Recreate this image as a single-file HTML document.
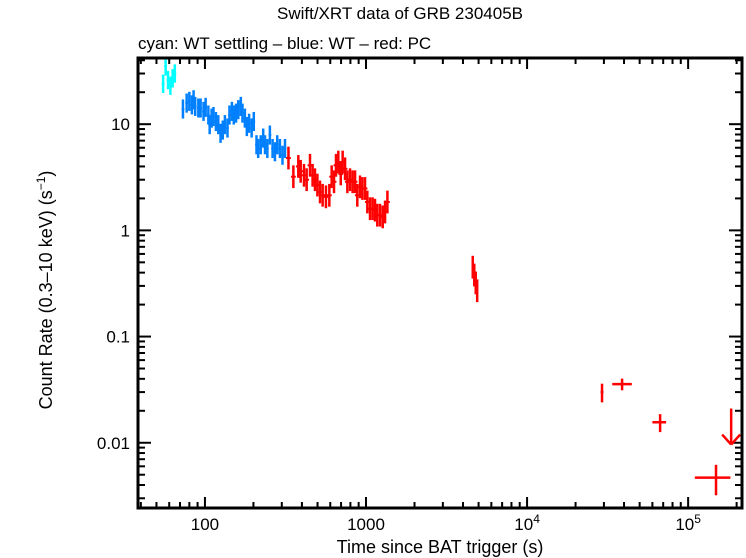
<!DOCTYPE html>
<html><head><meta charset="utf-8"><style>
html,body{margin:0;padding:0;background:#fff;}
svg{display:block;font-family:"Liberation Sans",sans-serif;}
</style></head><body>
<svg id="chart" width="746" height="558" viewBox="0 0 746 558">
<text x="400" y="19" text-anchor="middle" font-size="17">Swift/XRT data of GRB 230405B</text>
<text x="138" y="49" font-size="17">cyan: WT settling – blue: WT – red: PC</text>
<text x="440" y="553" text-anchor="middle" font-size="18">Time since BAT trigger (s)</text>
<text transform="translate(52,290) rotate(-90)" text-anchor="middle" font-size="18">Count Rate (0.3–10 keV) (s<tspan font-size="12" dy="-7">−1</tspan><tspan dy="7">)</tspan></text>
<g id="ticks"></g>
<g id="marks"></g>
<rect x="138" y="58" width="604" height="450" fill="none" stroke="#000" stroke-width="3"/>
</svg>
<script>
const cyanT=[55,57,59,61,63,65];
const cyanR=[24,35,26,23,27,30];
const blueT=[73,77,80,83,85,87,91,94,98,101,105,107,110,113,117,121,125,129,133,138,142,147,151,156,161,167,171,177,182,188,195,201,209,214,222,230,236,244,253,263,272,281,292,303,314];
const blueR=[13.9,15.8,16.4,15.2,17.0,14.7,14.2,14.2,13.2,14.4,12.2,9.9,11.4,11.8,10.6,9.9,8.2,8.8,9.9,9.2,12.2,13.2,12.2,12.7,13.7,14.7,12.7,11.4,9.5,10.2,9.2,10.6,6.4,5.9,6.4,7.4,6.4,5.9,7.9,5.9,5.5,6.4,5.9,5.1,5.9];
const redT=[330,354,380,393,412,428,449,466,482,499,518,538,564,592,612,633,651,673,697,716,741,766,796,826,855,883,918,949,986,1019,1059,1099,1137,1175,1222,1270,1313,1358,4600,4700,4800,4900];
const redR=[4.8,3.2,4.0,3.6,3.3,3.0,4.1,3.3,3.0,2.67,2.3,2.14,2.07,2.14,3.2,2.87,4.1,4.4,3.4,4.4,3.8,2.87,3.0,2.87,2.87,2.14,2.57,2.48,2.48,1.85,1.6,1.6,1.55,1.39,1.39,1.34,1.49,1.85,0.45,0.38,0.32,0.27];
const lateT=[29200,38900,67000,149000];
const lateR=[0.030,0.0357,0.0156,0.0047];
const lateTlo=[28600,33800,60000,110000];
const lateThi=[29800,44700,73000,183000];
const lateErr=[0.006,0.0045,0.003,0.0015];
const ulT=[185000];
const ulR=[0.021];
const xTicks=[100,1000,10000,100000];
const xTickLabels=["100","1000","10^4","10^5"];
const yTicks=[0.01,0.1,1,10];
const yTickLabels=["0.01","0.1","1","10"];

const X0=138,X1=742,Y0=58,Y1=508;
const lx0=Math.log10(38.4),lx1=Math.log10(216000),ly0=Math.log10(0.00243),ly1=Math.log10(42);
function xs(t){return X0+(Math.log10(t)-lx0)/(lx1-lx0)*(X1-X0);}
function ys(r){return Y1-(Math.log10(r)-ly0)/(ly1-ly0)*(Y1-Y0);}
const NS="http://www.w3.org/2000/svg";
const marks=document.getElementById('marks'),tk=document.getElementById('ticks');
function line(g,x1,y1,x2,y2,c,w,name){const l=document.createElementNS(NS,'line');l.setAttribute('x1',x1);l.setAttribute('y1',y1);l.setAttribute('x2',x2);l.setAttribute('y2',y2);l.setAttribute('stroke',c);l.setAttribute('stroke-width',w);


g.appendChild(l);return l;}
function pt(t,r,dxf,drf,c,name){
 const g=document.createElementNS(NS,'g');
 
 
 const x=xs(t),y=ys(r);
 line(g,xs(t/dxf),y,xs(t*dxf),y,c,2,'x-error-bar');
 line(g,x,ys(r*drf),x,ys(r/drf),c,2.5,'y-error-bar');
 marks.appendChild(g);}
cyanT.forEach((t,i)=>pt(t,cyanR[i],1.02,1.22,'#00ffff','wt-settling-point'));
blueT.forEach((t,i)=>pt(t,blueR[i],1.02,1.23,'#0080ff','wt-point'));
redT.forEach((t,i)=>pt(t,redR[i],i<38?1.035:1.01,1.28,'#ff0000','pc-point'));
lateT.forEach((t,i)=>{
 const g=document.createElementNS(NS,'g');
 
 
 const x=xs(t),y=ys(lateR[i]);
 line(g,xs(lateTlo[i]),y,xs(lateThi[i]),y,'#ff0000',2.5,'x-error-bar');
 line(g,x,ys(lateR[i]+lateErr[i]),x,ys(lateR[i]-lateErr[i]),'#ff0000',2.5,'y-error-bar');
 marks.appendChild(g);});
ulT.forEach((t,i)=>{
 const g=document.createElementNS(NS,'g');
 
 
 const x=xs(t),y=ys(ulR[i]);
 line(g,x,y,x,y+36,'#ff0000',2.5,'arrow-shaft');
 line(g,x-9,y+26,x,y+36,'#ff0000',2.5,'arrow-head-left');
 line(g,x+9,y+26,x,y+36,'#ff0000',2.5,'arrow-head-right');
 marks.appendChild(g);});
// x ticks
for(let d=1;d<=5;d++){for(let m=1;m<10;m++){const v=m*Math.pow(10,d);const x=xs(v);if(x<X0||x>X1)continue;const L=m==1?11:6;
 line(tk,x,Y1,x,Y1-L,'#000',2,'x-tick');line(tk,x,Y0,x,Y0+L,'#000',2,'x-tick-top');}}
for(let d=-3;d<=1;d++){for(let m=1;m<10;m++){const v=m*Math.pow(10,d);const y=ys(v);if(y<Y0||y>Y1)continue;const L=m==1?13:7;
 line(tk,X0,y,X0+L,y,'#000',2,'y-tick');line(tk,X1,y,X1-L,y,'#000',2,'y-tick-right');}}
xTicks.forEach((v,i)=>{const t=document.createElementNS(NS,'text');
 
 
 t.setAttribute('x',xs(v));t.setAttribute('y',530);t.setAttribute('text-anchor','middle');t.setAttribute('font-size','17');
 const s=xTickLabels[i];if(s.includes('^')){const p=s.split('^');t.innerHTML=p[0]+'<tspan font-size="12" dy="-7">'+p[1]+'</tspan>';}else t.textContent=s;tk.appendChild(t);});
yTicks.forEach((v,i)=>{const t=document.createElementNS(NS,'text');
 
 
 t.setAttribute('x',130);t.setAttribute('y',ys(v)+6);t.setAttribute('text-anchor','end');t.setAttribute('font-size','17');t.textContent=yTickLabels[i];tk.appendChild(t);});
</script>
</body></html>
